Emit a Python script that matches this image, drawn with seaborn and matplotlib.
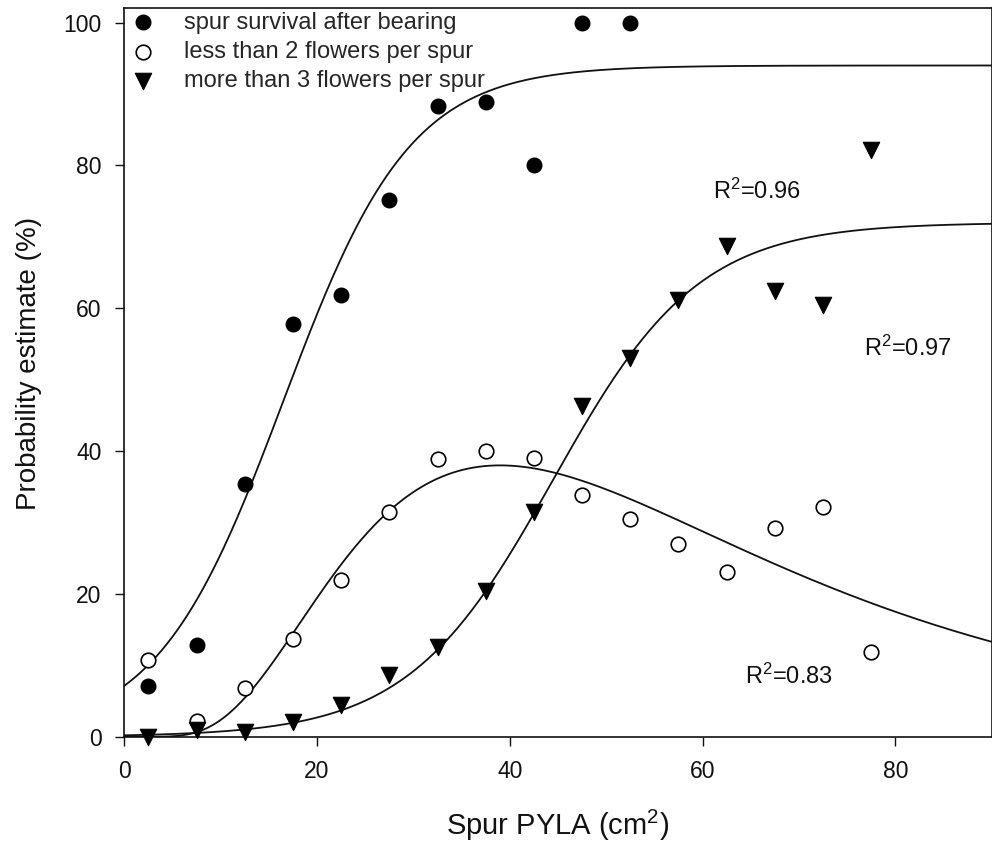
import numpy as np
import pandas as pd
import matplotlib
matplotlib.use("Agg")
import matplotlib.pyplot as plt
import seaborn as sns

# ---- data ----
x_survival = [2.5, 7.5, 12.5, 17.5, 22.5, 27.5, 32.5, 37.5, 42.5, 47.5, 52.5]
y_survival = [7.1, 12.8, 35.4, 57.8, 61.8, 75.1, 88.3, 88.9, 80.1, 100, 100]

x_flowers = [2.5, 7.5, 12.5, 17.5, 22.5, 27.5, 32.5, 37.5, 42.5, 47.5,
             52.5, 57.5, 62.5, 67.5, 72.5, 77.5]
y_less2 = [10.8, 2.2, 6.8, 13.7, 21.9, 31.4, 38.9, 40.0, 39.1, 33.8,
           30.5, 27.0, 23.0, 29.2, 32.2, 11.8]
y_more3 = [0.0, 0.9, 0.6, 2.0, 4.5, 8.7, 12.5, 20.4, 31.4, 46.3,
           53.1, 61.1, 68.7, 62.4, 60.5, 82.2]

labels = ["spur survival after bearing", "less than 2 flowers per spur",
          "more than 3 flowers per spur"]
r2_texts = ["R$^2$=0.96", "R$^2$=0.97", "R$^2$=0.83"]
r2_pos = [(61.1, 76.4), (76.8, 54.4), (64.4, 8.4)]

# fitted-curve parameters (estimated from the drawn curves)
surv_a, surv_x0, surv_b = 94.0, 16.5, 6.6
more_a, more_x0, more_b = 72.0, 44.5, 7.54
less_a, less_m, less_s = 38.0, 39.0, 0.577

# ---- style ----
sns.set_theme(style="ticks")
plt.rcParams["font.family"] = ["Liberation Sans", "DejaVu Sans"]
plt.rcParams["mathtext.fontset"] = "custom"
plt.rcParams["mathtext.rm"] = "Liberation Sans"
plt.rcParams["mathtext.it"] = "Liberation Sans"
plt.rcParams["mathtext.default"] = "regular"

fig = plt.figure(figsize=(9.92, 8.52), dpi=100)
ax = fig.add_axes([0.1253, 0.1353, 0.8744, 0.8549])

xc = np.linspace(0.0, 90.0, 500)
surv_curve = surv_a / (1 + np.exp(-(xc - surv_x0) / surv_b))
more_curve = more_a / (1 + np.exp(-(xc - more_x0) / more_b))
less_curve = np.where(xc > 0,
                      less_a * np.exp(-0.5 * (np.log(np.maximum(xc, 1e-9) / less_m) / less_s) ** 2),
                      0.0)

lc = "#111111"
for yc in (surv_curve, less_curve, more_curve):
    sns.lineplot(x=xc, y=yc, ax=ax, color=lc, linewidth=1.3, legend=False, zorder=2)

df_s = pd.DataFrame({"x": x_survival, "y": y_survival})
df_l = pd.DataFrame({"x": x_flowers, "y": y_less2})
df_m = pd.DataFrame({"x": x_flowers, "y": y_more3})

sns.scatterplot(data=df_s, x="x", y="y", ax=ax, marker="o", s=110, color="black",
                edgecolor="black", linewidth=1.0, label=labels[0], zorder=3, clip_on=False)
sns.scatterplot(data=df_l, x="x", y="y", ax=ax, marker="o", s=110, color="white",
                edgecolor="black", linewidth=1.2, label=labels[1], zorder=3, clip_on=False)
sns.scatterplot(data=df_m, x="x", y="y", ax=ax, marker="v", s=140, color="black",
                edgecolor="black", linewidth=0.8, label=labels[2], zorder=3, clip_on=False)

for txt, (tx, ty) in zip(r2_texts, r2_pos):
    ax.text(tx, ty, txt, fontsize=17, ha="left", va="center", color="#111111")

ax.set_xlim(0, 90)
ax.set_ylim(0, 102)
ax.set_xticks([0, 20, 40, 60, 80])
ax.set_yticks([0, 20, 40, 60, 80, 100])
ax.tick_params(axis="both", direction="out", length=6.5, width=1.0,
               labelsize=16.5, colors="#111111", pad=10)
for sp in ax.spines.values():
    sp.set_linewidth(1.2)
    sp.set_color("#111111")

ax.set_xlabel("Spur PYLA (cm$^2$)", fontsize=21, color="#111111")
ax.set_ylabel("Probability estimate (%)", fontsize=20, color="#111111")
ax.xaxis.set_label_coords(0.5, -0.098)
ax.yaxis.set_label_coords(-0.0945, 0.513)

leg = ax.legend(loc="upper left", bbox_to_anchor=(0.003, 0.9955), frameon=False,
                fontsize=17, handlelength=1.4, handletextpad=1.0, labelspacing=0.3,
                borderpad=0, borderaxespad=0)

fig.savefig("out.png", dpi=100)
